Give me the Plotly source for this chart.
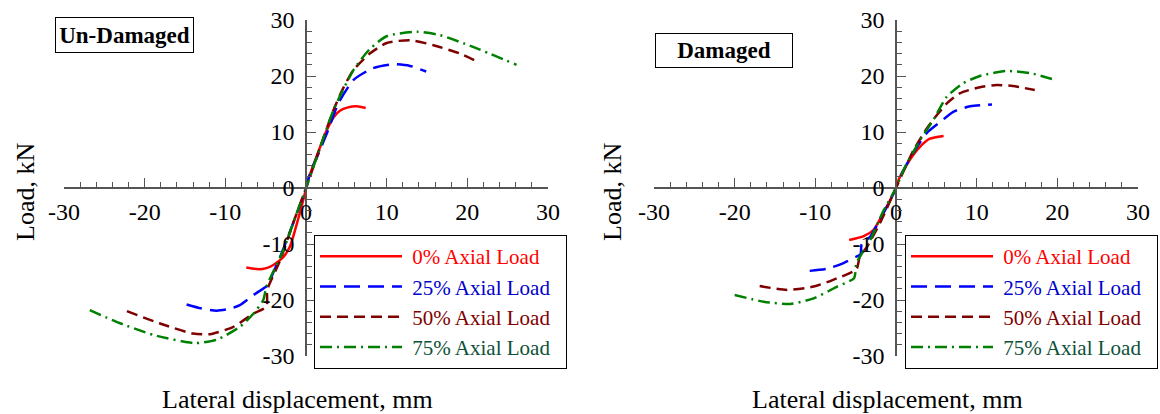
import plotly.graph_objects as go

# ---------------- data ----------------
series_names = ["0% Axial Load", "25% Axial Load", "50% Axial Load", "75% Axial Load"]
line_colors = ["#ff0000", "#0000ff", "#7f0000", "#008000"]
text_colors = ["#ff0000", "#0000cc", "#7f0000", "#0b5137"]
dash_styles = ["solid", "16px,8px", "11px,6px", "12px,5px,2px,5px"]

x_ticks = [-30, -20, -10, 0, 10, 20, 30]
y_ticks = [-30, -20, -10, 0, 10, 20, 30]

# Un-Damaged panel
ud_x_0 = [-7.4, -5.9, -4.9, -4.0, -2.8, -2.0, -1.0, 0.0, 0.3, 1.3, 2.6, 3.4, 4.2, 5.2, 6.3, 7.4]
ud_y_0 = [-14.2, -14.5, -14.3, -13.7, -12.3, -10.5, -5.7, -0.2, 1.6, 5.6, 10.4, 12.6, 13.8, 14.4, 14.6, 14.3]
ud_x_25 = [-14.8, -13.0, -11.1, -9.5, -8.2, -6.5, -4.9, -4.5, -4.25, -3.2, -1.6, -0.5, 0.0, 0.5, 1.5, 2.6, 4.0, 5.9, 8.3, 10.8, 12.9, 14.9]
ud_y_25 = [-20.8, -21.5, -21.9, -21.6, -20.9, -19.1, -17.6, -17.2, -15.8, -12.3, -6.3, -2.1, 0.0, 2.6, 6.0, 9.8, 15.1, 19.3, 21.4, 22.1, 21.8, 20.8]
ud_x_50 = [-22.2, -18.1, -14.0, -11.9, -9.0, -6.5, -4.9, -4.8, -3.2, -1.6, 0.0, 1.5, 3.4, 4.6, 5.9, 7.9, 10.0, 12.9, 15.8, 19.1, 21.5]
ud_y_50 = [-22.0, -24.2, -26.0, -26.1, -24.8, -22.4, -21.2, -18.2, -12.9, -6.3, 0.0, 6.2, 13.9, 17.8, 21.1, 24.0, 25.9, 26.4, 25.5, 24.0, 22.4]
ud_x_75 = [-26.8, -23.5, -18.9, -13.75, -11.1, -8.2, -6.5, -5.3, -4.9, -2.8, -1.15, 0.0, 1.5, 3.4, 5.9, 7.9, 10.0, 13.7, 16.6, 20.7, 26.1]
ud_y_75 = [-21.8, -23.9, -26.25, -27.7, -27.1, -24.8, -22.4, -20.0, -17.6, -11.1, -4.5, 0.0, 6.2, 13.9, 21.1, 24.8, 27.1, 27.9, 27.3, 25.2, 22.0]

# Damaged panel
d_x_0 = [-5.8, -4.0, -2.8, -1.8, -0.7, 0.0, 0.3, 1.7, 3.0, 4.2, 5.9]
d_y_0 = [-9.3, -8.6, -7.5, -5.1, -2.1, 0.0, 1.4, 5.0, 7.4, 8.8, 9.3]
d_x_25 = [-10.7, -8.5, -6.5, -5.0, -4.4, -4.25, -3.2, -2.0, -0.7, 0.0, 0.3, 2.1, 3.8, 5.5, 7.1, 9.2, 11.9]
d_y_25 = [-14.8, -14.4, -13.4, -12.3, -11.8, -10.0, -8.7, -5.7, -2.1, 0.0, 1.4, 6.2, 9.8, 11.8, 13.6, 14.6, 14.9]
d_x_50 = [-16.9, -13.5, -10.2, -7.8, -4.9, -4.5, -3.6, -2.0, 0.0, 1.0, 2.2, 3.8, 5.0, 6.3, 7.9, 10.4, 12.5, 14.5, 17.2]
d_y_50 = [-17.5, -18.2, -17.6, -16.4, -14.5, -12.3, -10.5, -6.3, 0.0, 3.2, 6.8, 10.6, 12.9, 15.1, 16.9, 18.0, 18.4, 18.2, 17.5]
d_x_75 = [-20.0, -16.4, -13.1, -10.2, -7.3, -5.2, -4.9, -3.2, -1.6, 0.0, 1.0, 3.0, 4.6, 6.3, 8.3, 10.4, 13.7, 17.0, 19.9]
d_y_75 = [-19.1, -20.3, -20.7, -19.7, -17.6, -16.1, -13.4, -9.3, -4.2, 0.0, 3.4, 8.6, 12.1, 16.3, 18.7, 20.0, 20.9, 20.4, 19.2]

panels = [
    dict(xs=[ud_x_0, ud_x_25, ud_x_50, ud_x_75], ys=[ud_y_0, ud_y_25, ud_y_50, ud_y_75],
         xa="x", ya="y", legend="legend", label="Un-Damaged"),
    dict(xs=[d_x_0, d_x_25, d_x_50, d_x_75], ys=[d_y_0, d_y_25, d_y_50, d_y_75],
         xa="x2", ya="y2", legend="legend2", label="Damaged"),
]

SERIF = "Liberation Serif, Times New Roman, serif"
NB = "\u00a0"

fig = go.Figure()
for p in panels:
    for i in range(4):
        fig.add_trace(go.Scatter(
            x=p["xs"][i], y=p["ys"][i], mode="lines",
            line=dict(color=line_colors[i], width=2.5, dash=dash_styles[i],
                      shape="spline", smoothing=0.6),
            name="<span style='color:%s'>%s%s%s</span>" % (text_colors[i], NB, series_names[i], NB * 2),
            xaxis=p["xa"], yaxis=p["ya"], legend=p["legend"], hoverinfo="x+y",
        ))

W, H = 1160, 414
ml, mr, mt, mb = 64, 22, 20, 58
pw, ph = W - ml - mr, H - mt - mb

def px_x(px):
    return (px - ml) / pw

def px_y(py):
    return (H - mb - py) / ph

d1 = [0.0, px_x(548)]
d2 = [px_x(654), 1.0]

axis_common = dict(
    range=[-30, 30], showline=True, linecolor="#555555", linewidth=1.5,
    ticks="inside", ticklen=9, tickwidth=1.2, tickcolor="#555555",
    tickmode="array", showgrid=False, zeroline=False,
    minor=dict(dtick=2, tick0=0, ticks="inside", ticklen=5, tickwidth=1, tickcolor="#555555", showgrid=False),
    tickfont=dict(family=SERIF, size=24, color="black"),
)

legend_common = dict(xanchor="left", yanchor="top",
                     bordercolor="black", borderwidth=1, bgcolor="white",
                     font=dict(family=SERIF, size=21), tracegroupgap=0, itemwidth=82)

fig.update_layout(
    width=W, height=H, autosize=False,
    margin=dict(l=ml, r=mr, t=mt, b=mb, autoexpand=False),
    paper_bgcolor="white", plot_bgcolor="white",
    showlegend=True,
    xaxis=dict(domain=d1, anchor="free", position=0.5, side="bottom",
               tickvals=x_ticks, ticktext=[str(v) for v in x_ticks], ticklabelstandoff=2, **axis_common),
    yaxis=dict(domain=[0, 1], anchor="free", position=sum(d1) / 2, side="left",
               tickvals=y_ticks, ticktext=[str(v) for v in y_ticks], ticklabelstandoff=6, **axis_common),
    xaxis2=dict(domain=d2, anchor="free", position=0.5, side="bottom",
                tickvals=x_ticks, ticktext=[str(v) for v in x_ticks], ticklabelstandoff=2, **axis_common),
    yaxis2=dict(domain=[0, 1], anchor="free", position=sum(d2) / 2, side="left",
                tickvals=y_ticks, ticktext=[str(v) for v in y_ticks], ticklabelstandoff=6, **axis_common),
    legend=dict(x=px_x(314), y=px_y(235), **legend_common),
    legend2=dict(x=px_x(905), y=px_y(235), **legend_common),
)

annots = []
# panel labels (boxed)
annots.append(dict(text="<b>Un-Damaged</b>", xref="paper", yref="paper",
                   x=px_x(124.5), y=px_y(35.5), xanchor="center", yanchor="middle",
                   showarrow=False, font=dict(family=SERIF, size=23, color="black"),
                   bordercolor="black", borderwidth=1, borderpad=2, bgcolor="white",
                   width=133, height=30))
annots.append(dict(text="<b>Damaged</b>", xref="paper", yref="paper",
                   x=px_x(724), y=px_y(50.5), xanchor="center", yanchor="middle",
                   showarrow=False, font=dict(family=SERIF, size=23, color="black"),
                   bordercolor="black", borderwidth=1, borderpad=2, bgcolor="white",
                   width=132, height=29))
# axis titles
for cx_plot, ylab_x in [(297, 25), (887, 612)]:
    annots.append(dict(text="Lateral displacement, mm", xref="paper", yref="paper",
                       x=px_x(cx_plot), y=px_y(399), xanchor="center", yanchor="middle",
                       showarrow=False, font=dict(family=SERIF, size=26, color="black")))
    annots.append(dict(text="Load, kN", xref="paper", yref="paper",
                       x=px_x(ylab_x), y=px_y(192), xanchor="center", yanchor="middle",
                       showarrow=False, textangle=-90, font=dict(family=SERIF, size=26, color="black")))
fig.update_layout(annotations=annots)

fig.write_html("out.html")
